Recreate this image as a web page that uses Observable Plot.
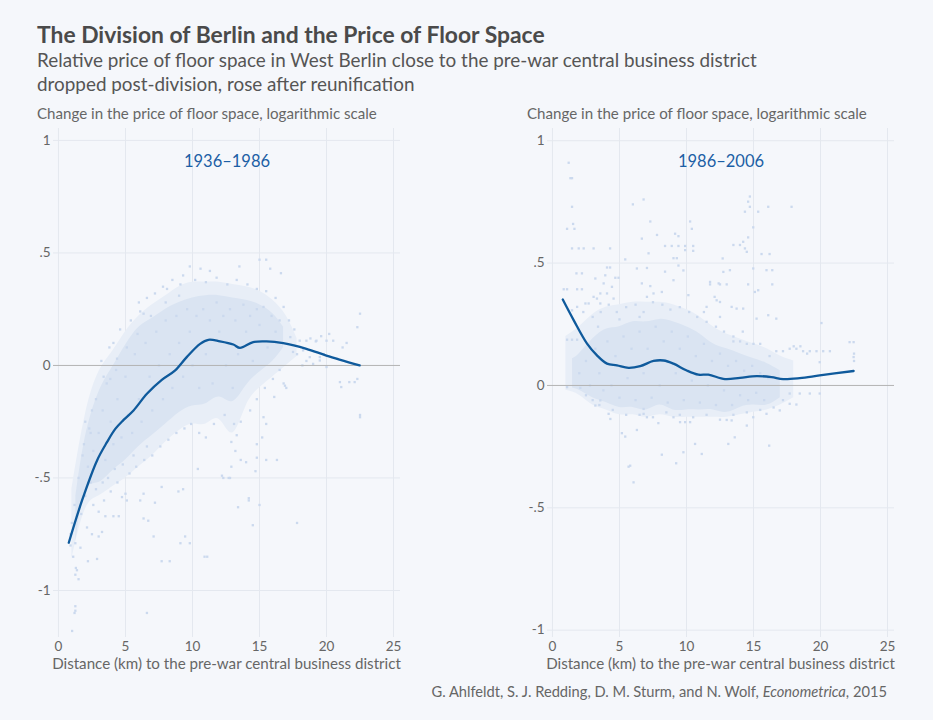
<!DOCTYPE html>
<html><head><meta charset="utf-8">
<script src="https://cdn.jsdelivr.net/npm/d3@7"></script>
<script src="https://cdn.jsdelivr.net/npm/@observablehq/plot@0.6"></script>
<style>
html,body{margin:0;padding:0;background:#f5f7fb;}
#wrap{position:relative;width:933px;height:720px;background:#f5f7fb;font-family:Lato,"Open Sans",sans-serif;overflow:hidden;}
#wrap .t{position:absolute;white-space:nowrap;line-height:1.2;}
#wrap .t.tight{line-height:1;}
#wrap svg{position:absolute;overflow:visible;}
</style></head><body><div id="wrap">
<div class="t" id="title" style="font-size:22px;font-weight:700;color:#4a4a4a">The Division of Berlin and the Price of Floor Space</div>
<div class="t" id="sub1" style="font-size:18px;color:#555">Relative price of floor space in West Berlin close to the pre-war central business district</div>
<div class="t" id="sub2" style="font-size:18px;color:#555">dropped post-division, rose after reunification</div>
<div class="t tight" id="ylabL" style="font-size:15px;color:#666">Change in the price of floor space, logarithmic scale</div>
<div class="t tight" id="ylabR" style="font-size:15px;color:#666">Change in the price of floor space, logarithmic scale</div>
<div class="t tight" id="xlabL" style="font-size:15px;color:#666">Distance (km) to the pre-war central business district</div>
<div class="t tight" id="xlabR" style="font-size:15px;color:#666">Distance (km) to the pre-war central business district</div>
<div class="t tight" id="cap" style="font-size:15px;color:#666">G. Ahlfeldt, S. J. Redding, D. M. Sturm, and N. Wolf, <i>Econometrica</i>, 2015</div>
</div>
<script>
// ---------- data ----------
const panelTitles = ["1936–1986", "1986–2006"];
const xTicks = [0, 5, 10, 15, 20, 25];
const yTicks = [-1, -0.5, 0, 0.5, 1];
const yTickLabels = ["-1", "-.5", "0", ".5", "1"];

// smoothed (lowess) line, 1936–1986
const lineLx = [0.77,1.76,2.88,3.62,4.24,4.86,5.60,6.60,7.71,8.71,9.57,10.57,11.19,12.05,13.05,13.54,14.53,15.53,16.77,18.50,19.99,22.47];
const lineLy = [-0.788,-0.60,-0.422,-0.341,-0.282,-0.242,-0.20,-0.126,-0.064,-0.022,0.037,0.096,0.114,0.107,0.093,0.078,0.104,0.107,0.099,0.074,0.044,0.0];
// smoothed line, 1986–2006
const lineRx = [0.77,1.59,2.58,3.32,4.07,4.81,5.68,6.55,7.54,8.29,9.03,10.02,10.89,11.63,12.87,13.99,15.23,16.34,17.21,18.45,19.94,22.47];
const lineRy = [0.351,0.266,0.171,0.123,0.089,0.082,0.072,0.079,0.10,0.102,0.089,0.061,0.044,0.044,0.026,0.031,0.038,0.034,0.026,0.030,0.041,0.059];

// dense core of the point cloud (x km, lower, upper)
const coreLx  = [1.3,2,3,4,5,6,7,8,9,10,11,12,13,14,15,16,16.8];
const coreLlo = [-0.78,-0.56,-0.52,-0.47,-0.42,-0.36,-0.31,-0.26,-0.21,-0.18,-0.17,-0.14,-0.16,-0.09,-0.03,0.02,0.08];
const coreLhi = [-0.58,-0.32,-0.12,-0.01,0.09,0.17,0.21,0.25,0.28,0.30,0.31,0.31,0.30,0.29,0.27,0.23,0.17];
const coreRx  = [1.5,2,3,4,5,6,7,8,9,10,11,12,13,14,15,16,17];
const coreRlo = [-0.01,-0.02,-0.05,-0.07,-0.09,-0.09,-0.10,-0.08,-0.10,-0.10,-0.10,-0.10,-0.11,-0.09,-0.08,-0.08,-0.05];
const coreRhi = [0.11,0.13,0.19,0.23,0.24,0.26,0.26,0.27,0.26,0.24,0.21,0.17,0.15,0.13,0.11,0.09,0.06];
// thinner outer haze of the cloud
const haloLx  = [1.0,2,3,4,5,6,7,8,9,10,11,12,13,14,15,16,17,17.8];
const haloLlo = [-0.86,-0.64,-0.58,-0.54,-0.50,-0.45,-0.40,-0.34,-0.29,-0.26,-0.26,-0.24,-0.30,-0.18,-0.10,-0.05,0.00,0.04];
const haloLhi = [-0.55,-0.22,-0.03,0.06,0.15,0.22,0.27,0.31,0.35,0.37,0.37,0.37,0.36,0.35,0.33,0.29,0.22,0.12];
const haloRx  = [1.0,2,3,4,5,6,7,8,9,10,11,12,13,14,15,16,17,18];
const haloRlo = [-0.02,-0.04,-0.08,-0.10,-0.12,-0.12,-0.13,-0.12,-0.13,-0.13,-0.13,-0.13,-0.13,-0.12,-0.11,-0.10,-0.08,-0.05];
const haloRhi = [0.20,0.24,0.29,0.32,0.33,0.34,0.34,0.34,0.33,0.31,0.28,0.24,0.21,0.19,0.17,0.15,0.12,0.10];

// individual observations, 1936–1986 (x km, change)
const ptsL = [
[1.26,-1.07],[1.26,-1.09],[1.2,-1.10],[1.02,-1.18],[6.6,-1.10],[1.26,-0.93],[1.3,-0.90],[1.38,-0.91],[2.88,-0.86],[2.2,-0.87],
[0.9,-0.80],[1.26,-0.79],[1.64,-0.81],[2.13,-0.72],[2.5,-0.75],[3.0,-0.76],[3.25,-0.74],[3.5,-0.67],[4.1,-0.67],[4.5,-0.67],
[6.35,-0.68],[6.7,-0.69],[7.7,-0.87],[8.3,-0.87],[7.1,-0.76],[9.1,-0.79],[9.45,-0.76],[10.9,-0.85],[4.74,-0.585],[5.1,-0.60],
[5.0,-0.57],[6.1,-0.60],[6.35,-0.57],[7.2,-0.61],[7.7,-0.54],[8.95,-0.56],[9.3,-0.55],[10.4,-0.46],[12.2,-0.49],[12.7,-0.50],
[13.4,-0.63],[14.2,-0.60],[14.5,-0.71],[11.1,-0.85],[17.8,-0.70],[15.0,-0.62],[14.2,-0.59],[16.3,-0.42],[15.5,-0.42],[14.7,-0.47],
[14.8,-0.41],[14.0,-0.43],[12.8,-0.50],[12.3,-0.50],[16.9,-0.09],[16.1,-0.14],[22.5,-0.22],[9.8,-0.79],
[9.8,0.44],[10.6,0.43],[11.3,0.42],[13.5,0.44],[15.0,0.47],[15.5,0.47],[15.8,0.43],[16.6,0.41],[9.1,0.36],[8.1,0.34],
[6.35,0.23],[6.1,0.24],[4.37,0.03],[4.1,0.10],[3.37,-0.05],[3.87,-0.06],[22.5,0.23],[22.3,0.17],[18.0,0.11],[19.2,0.107],
[20.5,0.11],[21.2,0.08],[22.3,-0.06],[21.7,-0.074],[21.1,-0.096],[18.5,0.02],[19.0,0.007],[19.5,0.037],[20.0,-0.007],[17.3,0.126],
[17.5,0.06],[22.5,-0.23],[21.0,-0.074],[22.1,-0.074],[16.8,-0.08],[17.0,-0.10],[18.5,0.11],[19.25,0.11],[20.0,0.11],
[18.25,0.067],[18.75,0.037],[19.5,0.022],[15.3,-0.23],[15.5,-0.26],[15.2,-0.32],[14.8,-0.35],
[2.0,-0.25],[2.5,-0.20],[2.3,-0.28],[1.8,-0.40],[1.5,-0.50],[1.2,-0.62],[1.0,-0.70],[0.9,-0.75],[1.1,-0.85],[1.5,-0.95],
[2.6,-0.62],[3.0,-0.65],[3.4,-0.60],[3.9,-0.56],[4.4,-0.52],[5.3,-0.48],[5.8,-0.45],[6.4,-0.42],[7.0,-0.40],[7.6,-0.36],
[8.2,-0.33],[8.8,-0.30],[9.4,-0.28],[9.9,-0.26],[10.5,-0.30],[11.0,-0.32],[11.6,-0.26],[12.4,-0.22],[13.2,-0.38],[13.6,-0.42],
[12.9,-0.45],[14.3,-0.20],[14.8,-0.15],[15.4,-0.10],[16.0,-0.06],[13.1,-0.26],[13.3,-0.31],[12.9,-0.34],
[3.2,0.02],[3.8,0.08],[4.6,0.16],[5.4,0.20],[6.0,0.28],[6.6,0.30],[7.2,0.32],[7.8,0.35],[8.5,0.38],[9.3,0.40],
[10.2,0.38],[11.0,0.37],[11.8,0.39],[12.6,0.36],[13.3,0.38],[14.1,0.36],[14.8,0.34],[15.5,0.33],[16.2,0.30],[16.8,0.26],
[17.2,0.20],[17.6,0.16],[16.5,-0.02],[17.8,0.05],[18.2,0.00],[19.8,0.05],[20.8,0.03],[21.5,0.10],[18.8,0.12],[19.6,0.13],[20.2,0.14],
[2.2,-0.45],[2.6,-0.38],[3.0,-0.30],[3.3,-0.20],[3.5,-0.42],[3.9,-0.25],[4.1,-0.35],[4.4,-0.15],[4.7,-0.32],[5.0,-0.05],
[5.2,-0.22],[5.5,-0.30],[5.7,0.05],[6.0,-0.15],[6.2,-0.25],[6.5,0.10],[6.8,-0.05],[7.0,-0.20],[7.3,0.15],[7.5,0.00],
[7.8,-0.15],[8.0,0.20],[8.3,0.05],[8.5,-0.10],[8.8,0.22],[9.0,0.10],[9.3,-0.05],[9.6,0.25],[9.8,0.15],[10.0,0.00],
[10.3,0.22],[10.5,-0.10],[10.8,0.25],[11.0,0.05],[11.3,0.20],[11.5,-0.08],[11.8,0.28],[12.0,0.15],[12.3,0.22],[12.5,0.00],
[12.8,0.25],[13.0,-0.10],[13.2,0.20],[13.4,0.05],[13.6,-0.25],[13.8,0.27],[14.0,0.15],[14.3,0.22],[14.5,0.02],[14.8,0.25],
[15.0,0.18],[15.3,0.26],[15.6,0.08],[15.9,0.22],[16.2,0.15],[16.5,0.20],
[1.7,-0.66],[2.0,-0.58],[2.4,-0.52],[2.8,-0.55],[3.3,-0.52],[3.7,-0.50],[4.2,-0.46],[4.8,-0.44],[5.6,-0.40],[6.6,-0.36],
[1.9,-0.35],[2.4,-0.30],[2.8,-0.15],[3.6,-0.08],[4.3,-0.02],[5.1,0.08],[5.9,0.14],[6.9,0.22],[8.0,0.28],[9.0,0.31]
];

// individual observations, 1986–2006
const ptsR = [
[1.21,0.91],[1.34,0.847],[1.46,0.847],[1.46,0.73],[1.54,0.66],[1.09,0.64],[1.64,0.64],[1.46,0.56],[1.96,0.56],[2.33,0.56],
[3.07,0.56],[4.3,0.56],[1.79,0.458],[2.2,0.458],[0.84,0.393],[1.09,0.393],[1.84,0.393],[2.2,0.393],[6.0,0.74],[6.8,0.76],
[7.3,0.67],[6.67,0.60],[7.8,0.615],[9.4,0.61],[9.15,0.62],[10.27,0.67],[10.4,0.64],[8.4,0.57],[8.9,0.57],[9.4,0.57],
[9.9,0.57],[10.5,0.57],[7.17,0.54],[9.9,0.553],[10.5,0.55],[5.43,0.515],[6.3,0.478],[7.05,0.48],[8.4,0.465],[9.03,0.52],
[9.28,0.52],[9.4,0.49],[9.77,0.47],[4.07,0.482],[4.3,0.482],[4.93,0.44],[4.69,0.44],[3.94,0.45],[3.2,0.437],[7.3,0.406],
[6.67,0.417],[7.54,0.376],[7.05,0.362],[8.16,0.382],[9.03,0.43],[10.14,0.369],[11.76,0.423],[12.4,0.417],[12.1,0.362],[2.46,0.335],
[3.07,0.362],[3.57,0.376],[4.44,0.403],[4.56,0.355],
[14.73,0.772],[14.6,0.751],[14.73,0.73],[14.36,0.71],[15.35,0.71],[16.1,0.73],[17.84,0.73],[14.98,0.646],[14.6,0.605],[13.5,0.574],
[13.99,0.574],[14.23,0.587],[14.36,0.56],[14.5,0.546],[15.6,0.537],[16.2,0.537],[12.7,0.519],[12.75,0.464],[13.24,0.471],[14.98,0.478],
[15.97,0.471],[16.4,0.471],[11.76,0.413],[12.5,0.413],[13.0,0.413],[14.6,0.413],[16.4,0.413],[15.1,0.382],[15.35,0.389],[12.25,0.348],
[12.5,0.341],[11.5,0.321],[13.37,0.321],[13.74,0.314],[14.23,0.314],[16.1,0.287],[16.7,0.273],[15.23,0.273],[20.07,0.255],
[3.2,-0.082],[3.57,-0.061],[4.19,-0.116],[4.32,-0.137],[5.18,-0.195],[5.43,-0.209],[5.8,-0.328],[5.68,-0.332],[6.05,-0.396],[6.3,-0.182],
[6.8,-0.116],[6.8,-0.096],[7.05,-0.13],[7.9,-0.154],[8.16,-0.283],[9.23,-0.318],[9.77,-0.273],[10.64,-0.239],[11.14,-0.28],[13.12,-0.239],
[13.6,-0.212],[14.5,-0.164],[16.17,-0.246],[9.03,-0.13],[9.52,-0.15],[9.9,-0.15],[10.27,-0.15],[13.0,-0.141],[13.37,-0.143],[14.98,-0.13],
[15.97,-0.116],[16.96,-0.102],[17.7,-0.075],[18.2,-0.078],[17.7,-0.033],[18.45,-0.033],[19.2,-0.033],[19.94,-0.033],[1.09,-0.007],[2.08,-0.01],
[16.7,0.14],[17.2,0.14],[17.7,0.15],[18.2,0.15],[18.7,0.14],[19.2,0.14],[19.7,0.14],[20.2,0.14],[20.7,0.14],[18.0,0.16],
[18.5,0.16],[19.0,0.13],[16.2,0.12],[15.5,0.17],[15.0,0.17],[14.5,0.17],[14.0,0.18],[13.5,0.18],[22.5,0.13],[22.5,0.10],
[22.17,0.177],[22.47,0.177],[22.47,0.116],[19.94,0.095],[1.09,0.187],[1.46,0.187],[1.84,0.187],[1.84,0.321],[1.46,0.307],[2.7,0.335],
[3.32,0.355],[3.57,0.335],[4.07,0.376],[3.82,0.417],
[2.3,0.30],[3.0,0.28],[3.6,0.30],[4.2,0.33],[4.8,0.30],[5.5,0.32],[6.2,0.33],[6.8,0.30],[7.5,0.34],[8.2,0.33],
[8.8,0.31],[9.5,0.32],[10.2,0.30],[10.8,0.28],[11.5,0.26],[12.2,0.24],[12.8,0.22],[13.5,0.20],[14.2,0.22],[3.4,0.24],
[5.0,0.27],[6.5,0.28],[11.3,0.30],[12.5,0.28],
[2.5,-0.04],[3.0,-0.06],[3.5,-0.08],[4.5,-0.10],[5.5,-0.12],[6.5,-0.12],[7.5,-0.13],[8.5,-0.11],[9.5,-0.12],[10.5,-0.13],
[11.5,-0.12],[12.5,-0.14],[13.5,-0.12],[14.5,-0.11],[15.5,-0.10],[16.5,-0.09],[17.2,-0.06],
[2.0,0.05],[2.5,0.10],[2.8,0.00],[3.2,0.15],[3.5,0.05],[3.8,-0.02],[4.1,0.18],[4.4,0.00],[4.7,0.12],[5.0,-0.05],
[5.3,0.20],[5.6,0.03],[5.9,0.15],[6.2,-0.06],[6.5,0.22],[6.8,0.05],[7.1,0.15],[7.4,-0.05],[7.7,0.24],[8.0,0.00],
[8.3,0.18],[8.6,-0.07],[8.9,0.22],[9.2,0.05],[9.5,0.15],[9.8,-0.06],[10.1,0.20],[10.4,0.02],[10.7,0.12],[11.0,-0.07],
[11.3,0.17],[11.6,0.00],[11.9,0.10],[12.2,-0.08],[12.5,0.13],[12.8,-0.02],[13.1,0.08],[13.4,-0.08],[13.7,0.10],[14.0,-0.04],
[14.3,0.06],[14.6,-0.06],[14.9,0.08],[15.2,-0.03],[15.5,0.05],[15.8,-0.06],[16.1,0.03]
];

// ---------- drawing ----------
const wrap = document.getElementById("wrap");
const C = {grid:"#e4e8ef", zero:"#b3b3b3", halo:"#e8eef7", cloud:"#dae4f2", pt:"#cbd9ee", line:"#0f5a9c", ptitle:"#1c5fa5", tick:"#666"};

function panel(o) {
  const line = o.lx.map((x, i) => ({x, y: o.ly[i]}));
  const core = o.cx.map((x, i) => ({x, lo: o.clo[i], hi: o.chi[i]}));
  const halo = o.hx.map((x, i) => ({x, lo: o.hlo[i], hi: o.hhi[i]}));
  const pts = o.pts.map(([x, y]) => ({x, y}));
  return Plot.plot({
    width: 420, height: 562,
    marginLeft: 53, marginRight: 20, marginTop: 8, marginBottom: 45,
    style: {background: "transparent", fontFamily: "Lato, sans-serif", fontSize: "13.5px", color: C.tick, overflow: "visible"},
    x: {domain: [-0.37, 25.52], ticks: xTicks, tickFormat: d => String(d), tickSize: 0, tickPadding: 4, label: null},
    y: {domain: o.yDomain, ticks: yTicks, tickFormat: d => yTickLabels[yTicks.indexOf(d)], tickSize: 0, tickPadding: 3, label: null},
    marks: [
      Plot.ruleX(xTicks, {stroke: C.grid}),
      Plot.ruleY(yTicks.filter(d => d !== 0), {stroke: C.grid}),
      Plot.areaY(halo, {x: "x", y1: "lo", y2: "hi", fill: C.halo, curve: "natural"}),
      Plot.areaY(core, {x: "x", y1: "lo", y2: "hi", fill: C.cloud, curve: "natural"}),
      Plot.dot(pts, {x: "x", y: "y", symbol: "square", r: 1.3, fill: C.pt, stroke: null}),
      Plot.ruleY([0], {stroke: C.zero}),
      Plot.line(line, {x: "x", y: "y", stroke: C.line, strokeWidth: 2.3, curve: "catmull-rom"}),
      Plot.text([o.title], {frameAnchor: "top", dy: 33, lineAnchor: "middle", fill: C.ptitle, fontSize: 16.5})
    ]
  });
}

const left = panel({lx: lineLx, ly: lineLy, cx: coreLx, clo: coreLlo, chi: coreLhi, hx: haloLx, hlo: haloLlo, hhi: haloLhi, pts: ptsL, yDomain: [-1.209, 1.053], title: panelTitles[0]});
const right = panel({lx: lineRx, ly: lineRy, cx: coreRx, clo: coreRlo, chi: coreRhi, hx: haloRx, hlo: haloRlo, hhi: haloRhi, pts: ptsR, yDomain: [-1.03, 1.05], title: panelTitles[1]});
left.style.left = "0px"; left.style.top = "120px";
right.style.left = "494px"; right.style.top = "120px";
wrap.appendChild(left); wrap.appendChild(right);

function place(id, o) {
  const el = document.getElementById(id);
  if (o.fs) el.style.fontSize = o.fs + "px";
  if (o.width) {
    const fs = parseFloat(el.style.fontSize);
    const w0 = el.getBoundingClientRect().width;
    el.style.fontSize = (fs * o.width / w0) + "px";
  }
  const m = document.createElement("span");
  m.style.cssText = "display:inline-block;width:0;height:0;";
  el.appendChild(m);
  el.style.top = "0px"; el.style.left = "0px";
  const b = m.getBoundingClientRect().top - el.getBoundingClientRect().top;
  el.style.top = (o.base - b) + "px";
  const w = el.getBoundingClientRect().width;
  const lx = o.left != null ? o.left : o.right != null ? o.right - w : o.center - w / 2;
  el.style.left = lx + "px";
  return parseFloat(el.style.fontSize);
}
place("title", {left: 37, base: 42.7, width: 508});
const sfs = place("sub1", {left: 37, base: 66.7, width: 720});
place("sub2", {left: 37, base: 90.5, fs: sfs});
const yfs = place("ylabL", {left: 37, base: 119.3, width: 340});
place("ylabR", {left: 527, base: 119.3, fs: yfs});
const xfs = place("xlabL", {center: 226.5, base: 669, width: 349});
place("xlabR", {center: 720.5, base: 669, fs: xfs});
place("cap", {right: 887, base: 697.3, width: 456});
</script>
</body></html>
